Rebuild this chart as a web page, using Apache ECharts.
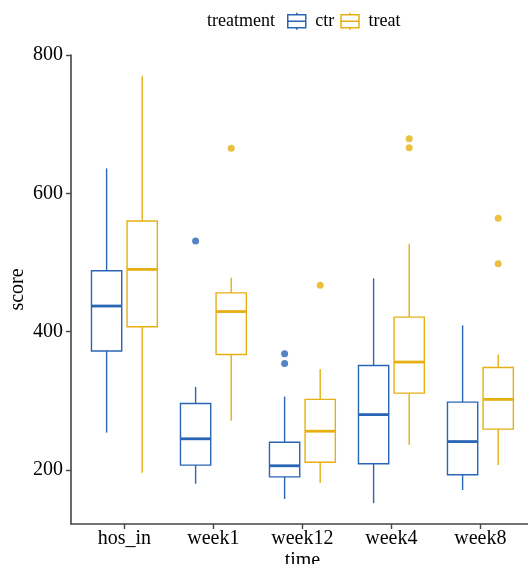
<!DOCTYPE html>
<html>
<head>
<meta charset="utf-8">
<script src="https://cdn.jsdelivr.net/npm/echarts@6/dist/echarts.min.js"></script>
<style>
  html, body { margin: 0; padding: 0; background: #fff; }
  #main { width: 528px; height: 564px; }
</style>
</head>
<body>
<div id="main"></div>
<script>
// time points
var categories = ['hos_in', 'week1', 'week12', 'week4', 'week8'];

// ctr group : whisker low, Q1, median, Q3, whisker high
var ctrMin = [254, 180, 158, 152, 171];
var ctrQ1  = [372, 207, 190, 209, 193];
var ctrMed = [437, 245, 206, 280, 241];
var ctrQ3  = [488, 296, 240, 351, 298];
var ctrMax = [636, 320, 306, 477, 409];

// treat group
var treatMin = [196, 271, 181, 236, 207];
var treatQ1  = [407, 367, 211, 311, 259];
var treatMed = [490, 429, 256, 356, 302];
var treatQ3  = [560, 456, 302, 421, 348];
var treatMax = [770, 478, 346, 527, 367];

// outliers (category index, value)
var ctrOutCat = [1, 2, 2];
var ctrOutVal = [531, 368, 354];
var treatOutCat = [1, 2, 3, 3, 4, 4];
var treatOutVal = [665, 467, 679, 666, 564, 498];

var yTicks = [200, 400, 600, 800];

var BLUE = '#2865b4';
var GOLD = '#e6b012';
var FONT = 'Liberation Serif';
var AXIS = '#444';

function boxData(mn, q1, md, q3, mx) {
	var out = [];
	for (var i = 0; i < categories.length; i++) {
		out.push([i, mn[i], q1[i], md[i], q3[i], mx[i]]);
	}
	return out;
}

function outData(cat, val, dodge) {
	var out = [];
	for (var i = 0; i < cat.length; i++) {
		out.push([cat[i] + dodge, val[i]]);
	}
	return out;
}

// ggplot-like box: no whisker caps, thick median
function boxRenderer(dodge, color) {
	return function (params, api) {
		var x = api.value(0) + dodge;
		var half = 0.17;
		var pMin = api.coord([x, api.value(1)]);
		var pQ1 = api.coord([x, api.value(2)]);
		var pMed = api.coord([x, api.value(3)]);
		var pQ3 = api.coord([x, api.value(4)]);
		var pMax = api.coord([x, api.value(5)]);
		var l = api.coord([x - half, 0])[0];
		var r = api.coord([x + half, 0])[0];
		return {
			type: 'group',
			children: [
				{ type: 'line', shape: { x1: pMin[0], y1: pMin[1], x2: pQ1[0], y2: pQ1[1] }, style: { stroke: color, lineWidth: 1.4 } },
				{ type: 'line', shape: { x1: pQ3[0], y1: pQ3[1], x2: pMax[0], y2: pMax[1] }, style: { stroke: color, lineWidth: 1.4 } },
				{ type: 'rect', shape: { x: l, y: pQ3[1], width: r - l, height: pQ1[1] - pQ3[1] }, style: { fill: '#fff', stroke: color, lineWidth: 1.4 } },
				{ type: 'line', shape: { x1: l, y1: pMed[1], x2: r, y2: pMed[1] }, style: { stroke: color, lineWidth: 2.8 } }
			]
		};
	};
}

var boxIcon = 'path://M0,2H18V15H0Z M0,8.5H18 M9,0V2 M9,15V17';

var myChart = echarts.init(document.getElementById('main'));
var option = {
	backgroundColor: '#fff',
	animation: false,
	title: {
		text: 'treatment',
		left: 207,
		top: 12,
		padding: 0,
		textStyle: { fontFamily: FONT, fontSize: 18, fontWeight: 'normal', color: '#000' }
	},
	legend: {
		left: 287,
		top: 12,
		padding: 0,
		itemGap: 6,
		itemWidth: 19,
		itemHeight: 17,
		textStyle: { fontFamily: FONT, fontSize: 18, color: '#000', padding: [1, 0, 0, 4] },
		data: [
			{ name: 'ctr', icon: boxIcon, itemStyle: { color: '#fff', borderColor: BLUE, borderWidth: 1.5 } },
			{ name: 'treat', icon: boxIcon, itemStyle: { color: '#fff', borderColor: GOLD, borderWidth: 1.5 } }
		]
	},
	grid: {
		left: 71,
		top: 55,
		width: 462.8,
		height: 469,
		containLabel: false,
		outerBoundsMode: 'none'
	},
	xAxis: {
		type: 'value',
		min: -0.6,
		max: 4.6,
		name: 'time',
		nameLocation: 'middle',
		nameGap: 27,
		nameMoveOverlap: false,
		nameTextStyle: { fontFamily: FONT, fontSize: 20, color: '#000' },
		axisLine: { show: true, onZero: false, lineStyle: { color: AXIS, width: 1.6 } },
		axisTick: { show: true, length: 5, customValues: [0, 1, 2, 3, 4], lineStyle: { color: AXIS, width: 1.4 } },
		axisLabel: {
			margin: 5,
			customValues: [0, 1, 2, 3, 4],
			formatter: function (v) { return categories[Math.round(v)]; },
			fontFamily: FONT, fontSize: 20, color: '#000'
		},
		splitLine: { show: false }
	},
	yAxis: {
		type: 'value',
		min: 121.8,
		max: 800,
		name: 'score',
		nameLocation: 'middle',
		nameGap: 43,
		nameMoveOverlap: false,
		nameTextStyle: { fontFamily: FONT, fontSize: 20, color: '#000' },
		axisLine: { show: true, onZero: false, lineStyle: { color: AXIS, width: 1.6 } },
		axisTick: { show: true, length: 5, customValues: yTicks, lineStyle: { color: AXIS, width: 1.4 } },
		axisLabel: { margin: 8, customValues: yTicks, fontFamily: FONT, fontSize: 20, color: '#000' },
		splitLine: { show: false }
	},
	series: [
		{
			name: 'ctr',
			type: 'custom',
			itemStyle: { color: BLUE },
			renderItem: boxRenderer(-0.2, BLUE),
			encode: { x: 0, y: [1, 2, 3, 4, 5] },
			data: boxData(ctrMin, ctrQ1, ctrMed, ctrQ3, ctrMax)
		},
		{
			name: 'treat',
			type: 'custom',
			itemStyle: { color: GOLD },
			renderItem: boxRenderer(0.2, GOLD),
			encode: { x: 0, y: [1, 2, 3, 4, 5] },
			data: boxData(treatMin, treatQ1, treatMed, treatQ3, treatMax)
		},
		{
			name: 'ctr',
			type: 'scatter',
			symbolSize: 7,
			itemStyle: { color: BLUE },
			data: outData(ctrOutCat, ctrOutVal, -0.2)
		},
		{
			name: 'treat',
			type: 'scatter',
			symbolSize: 7,
			itemStyle: { color: GOLD },
			data: outData(treatOutCat, treatOutVal, 0.2)
		}
	]
};
myChart.setOption(option);
</script>
</body>
</html>
